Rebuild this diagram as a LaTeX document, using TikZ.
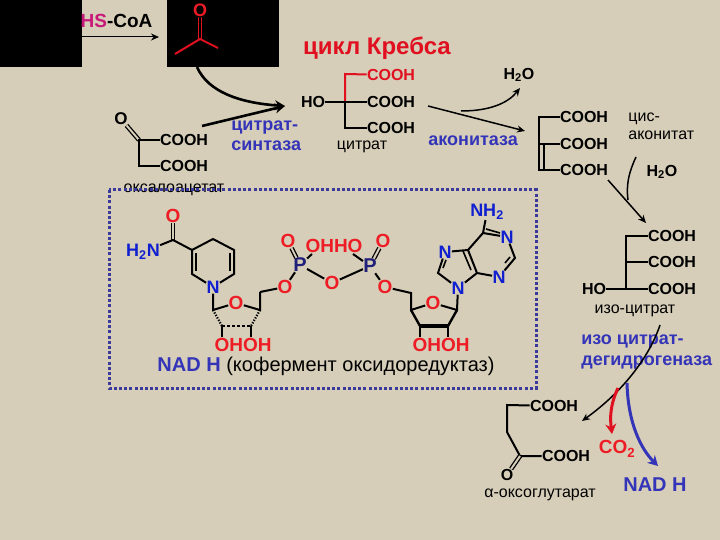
\documentclass[tikz,border=0pt]{standalone}
\usepackage{fontspec}
\setmainfont{Liberation Sans}
\definecolor{bg}{HTML}{D6CEB8}
\definecolor{acr}{HTML}{E01020}
\definecolor{atomr}{HTML}{EE1C25}
\definecolor{atomb}{HTML}{1020D0}
\definecolor{enz}{HTML}{3434B8}
\definecolor{navy}{HTML}{20207A}
\definecolor{mag}{HTML}{C8187A}
\definecolor{dots}{HTML}{3A3A9C}
\usetikzlibrary{arrows.meta}
\tikzset{
 every node/.style={inner sep=0.4pt,outer sep=0pt},
 chem/.style={font=\fontsize{16}{18}\selectfont\bfseries},
 chemO/.style={font=\fontsize{17}{19}\selectfont\bfseries},
 redat/.style={font=\fontsize{19}{21}\selectfont\bfseries,text=atomr},
 bluat/.style={font=\fontsize{18}{20}\selectfont\bfseries,text=atomb},
 pat/.style={font=\fontsize{20}{22}\selectfont\bfseries,text=navy},
 plain/.style={font=\fontsize{16}{18}\selectfont},
 enzy/.style={font=\fontsize{18}{20.5}\selectfont\bfseries,text=enz,align=left},
 bond/.style={line width=2pt,black},
 dbl/.style={line width=1.3pt,black,double=bg,double distance=2pt},
 thin bond/.style={line width=1.6pt,black},
 hash/.style={line width=2.2pt,dash pattern=on 1.3pt off 1.5pt,black},
 rxn/.style={line width=1.5pt,black,-{Stealth[length=8pt,width=7pt]}},
 thickrxn/.style={line width=2.6pt,black,-{Stealth[length=10pt,width=10pt]}},
}
\begin{document}
\begin{tikzpicture}[x=1pt,y=-1pt]
\useasboundingbox (0,0) rectangle (720,540);
\fill[bg] (0,0) rectangle (720,540);
\fill[black] (0,0) rectangle (82,67);
\fill[black] (167,0) rectangle (279,67);
% HS-CoA
\node (hs) at (116.5,21) {\fontsize{19}{21}\selectfont\bfseries\textcolor{mag}{HS}-CoA};
\coordinate (a0) at (82,37); \coordinate (a1) at (159,37);
\draw[rxn,line width=1pt] (a0) -- (a1);
% acetyl
\node[text=atomr,font=\fontsize{18}{20}\selectfont\bfseries] (aO) at (200,10) {O};
\coordinate (aC) at (200,39); \coordinate (aL) at (175,54); \coordinate (aR) at (218,48);
\draw[line width=1.3pt,acr,double=black,double distance=2pt] (aO) -- (aC);
\draw[line width=2pt,acr] (aL) -- (aC) -- (aR);
% title
\node[font=\fontsize{24}{26}\selectfont\bfseries,text=acr] (title) at (377,48) {цикл Кребса};
% incoming arrows
\coordinate (in0) at (197,67); \coordinate (in1) at (285,106); \coordinate (in2) at (202,126);
\draw[thickrxn] (in0) .. controls (208,92) and (240,103) .. (in1);
\draw[thickrxn] (in2) -- (in1);
% oxaloacetate
\node[chemO] (oxO) at (121,119) {O};
\coordinate (ox1) at (139,140); \coordinate (ox2) at (139,166);
\node[chem] (ox3) at (184,140) {COOH};
\node[chem] (ox4) at (184,166) {COOH};
\draw[dbl] (oxO) -- (ox1);
\draw[bond] (ox3) -- (ox1) -- (ox2) -- (ox4);
\node[plain] (oxn) at (174,190) {оксалоацетат};
% citrate synthase
\node[enzy,anchor=west] (cs) at (231,135.5) {цитрат-\\синтаза};
% citrate
\node[chem,text=acr] (c1) at (391,75) {COOH};
\node[chem] (c2) at (391,102) {COOH};
\node[chem] (c3) at (391,128) {COOH};
\node[chem] (cho) at (313,102) {HO};
\coordinate (cc1) at (345,74); \coordinate (cc2) at (345,102); \coordinate (cc3) at (345,128);
\draw[line width=2pt,acr] (c1) -- (cc1) -- (cc2);
\draw[bond] (cho) -- (c2);
\draw[bond] (cc2) -- (cc3) -- (c3);
\node[plain] (cn) at (362,147) {цитрат};
% aconitase
\node[chem] (w1) at (519,75) {H\textsubscript{2}O};
\coordinate (b0) at (428,106); \coordinate (b1) at (525,131); \coordinate (b2) at (461,111); \coordinate (b3) at (520,88);
\draw[rxn] (b0) -- (b1);
\draw[rxn] (b2) .. controls (490,111) and (508,103) .. (b3);
\node[enzy,anchor=west] (ac) at (428,141) {аконитаза};
% cis-aconitate
\node[chem] (d1) at (584,117) {COOH};
\node[chem] (d2) at (584,144) {COOH};
\node[chem] (d3) at (584,170) {COOH};
\coordinate (dc1) at (539,117); \coordinate (dc2) at (539,144); \coordinate (dc3) at (539,170);
\coordinate (dd2) at (544,144); \coordinate (dd3) at (544,170);
\draw[bond] (d1) -- (dc1) -- (dc3) -- (d3);
\draw[bond] (dc2) -- (d2);
\draw[bond] (dd2) -- (dd3);
\node[plain,align=left,anchor=west] (dn) at (628,126) {цис-\\аконитат};
\node[chem] (w2) at (662,172) {H\textsubscript{2}O};
\coordinate (e0) at (636,157); \coordinate (e1) at (628,200); \coordinate (e2) at (608,180); \coordinate (e3) at (646,223);
\draw[line width=1.5pt] (e0) .. controls (629,172) and (626,184) .. (e1);
\draw[rxn] (e2) -- (e3);
% isocitrate
\node[chem] (f1) at (672,236) {COOH};
\node[chem] (f2) at (672,262) {COOH};
\node[chem] (f3) at (672,289) {COOH};
\node[chem] (fho) at (594,289) {HO};
\coordinate (fc1) at (626,236); \coordinate (fc2) at (626,262); \coordinate (fc3) at (626,289);
\draw[bond] (f1) -- (fc1) -- (fc3);
\draw[bond] (fc2) -- (f2);
\draw[bond] (fho) -- (f3);
\node[plain] (fn) at (635,311) {изо-цитрат};
\node[enzy,anchor=west] (idh) at (581,352) {изо цитрат-\\дегидрогеназа};
% decarboxylation
\coordinate (g0) at (660,325); \coordinate (g1) at (582,421); \coordinate (g2) at (618,388); \coordinate (g3) at (612,434); \coordinate (g4) at (627,383); \coordinate (g5) at (658,466);
\draw[rxn] (g0) .. controls (650,355) and (625,390) .. (g1);
\draw[line width=3pt,acr,-{Stealth[length=10pt,width=11pt]}] (g2) .. controls (610,405) and (610,418) .. (g3);
\draw[line width=3pt,enz,-{Stealth[length=10pt,width=11pt]}] (g4) .. controls (628,425) and (642,450) .. (g5);
\node[font=\fontsize{19}{21}\selectfont\bfseries,text=atomr] (co2) at (617,449) {CO\textsubscript{2}};
\node[font=\fontsize{20}{22}\selectfont\bfseries,text=enz] (nadh2) at (655,485) {NAD H};
% ketoglutarate
\node[chem] (k1) at (554,406) {COOH};
\node[chem] (k2) at (566,456) {COOH};
\node[chem] (kO) at (507,475) {O};
\coordinate (kc1) at (507,405); \coordinate (kc2) at (507,432); \coordinate (kc3) at (520,456);
\draw[bond] (k1) -- (kc1) -- (kc2) -- (kc3) -- (k2);
\draw[dbl] (kc3) -- (kO);
\node[plain] (kn) at (540,495) {α-оксоглутарат};
% dotted box
\coordinate (bx1) at (109,190); \coordinate (bx2) at (536,388);
\draw[dots,line width=3pt,dash pattern=on 3pt off 2.2pt] (bx1) rectangle (bx2);
% NAD: nicotinamide
\node[redat] (nO) at (173,216) {O};
\node[bluat] (nH) at (143,252) {H\textsubscript{2}N};
\node[bluat] (nN) at (213,287) {N};
\coordinate (n1) at (173,240); \coordinate (n2) at (192,250); \coordinate (n3) at (213,239); \coordinate (n4) at (234,250); \coordinate (n5) at (234,274); \coordinate (n6) at (192,274);
\draw[dbl] (nO) -- (n1);
\draw[bond] (nH) -- (n1) -- (n2) -- (n3) -- (n4) -- (n5) -- (nN) -- (n6) -- (n2);
\coordinate (n2i) at (196,253); \coordinate (n6i) at (196,271); \coordinate (n4i) at (230,253); \coordinate (n5i) at (230,271);
\draw[thin bond] (n2i) -- (n6i);
\draw[thin bond] (n4i) -- (n5i);
% ribose 1
\node[redat] (r1O) at (236,303) {O};
\coordinate (r1a) at (213,310); \coordinate (r1b) at (222,326); \coordinate (r1c) at (251,326); \coordinate (r1d) at (260,310); \coordinate (r1e) at (260,292);
\draw[bond] (nN) -- (r1a) -- (r1O) -- (r1d) -- (r1e);
\draw[hash] (r1a) -- (r1b);
\draw[hash] (r1d) -- (r1c);
\draw[line width=2pt,dash pattern=on 3pt off 2pt] (r1b) -- (r1c);
\node[redat] (r1h) at (243,345) {OHOH};
\coordinate (r1h1) at (222,337); \coordinate (r1h2) at (251,337);
\draw[bond] (r1b) -- (r1h1);
\draw[bond] (r1c) -- (r1h2);
% phosphates
\node[redat] (p1O5) at (285,287) {O};
\node[pat] (P1) at (300,265) {P};
\node[redat] (p1O) at (288,241) {O};
\node[redat] (oh) at (334,246) {OHHO};
\coordinate (ohL) at (312,254); \coordinate (ohR) at (353,254);
\node[redat] (pbr) at (332,283) {O};
\node[pat] (P2) at (370,266) {P};
\node[redat] (p2O) at (383,241) {O};
\node[redat] (p2O5) at (385,287) {O};
\draw[bond] (r1e) -- (p1O5) -- (P1) -- (pbr) -- (P2) -- (p2O5);
\draw[dbl] (P1) -- (p1O);
\draw[dbl] (P2) -- (p2O);
\draw[bond] (P1) -- (ohL);
\draw[bond] (P2) -- (ohR);
% ribose 2
\coordinate (r2e) at (411,293); \coordinate (r2d) at (411,310); \coordinate (r2c) at (420,326); \coordinate (r2b) at (448,326); \coordinate (r2a) at (457,310);
\node[redat] (r2O) at (433,303) {O};
\node[bluat] (aN9) at (458,288) {N};
\draw[bond] (p2O5) -- (r2e) -- (r2d) -- (r2O) -- (r2a) -- (aN9);
\draw[bond,line width=2.4pt] (r2d) -- (r2c);
\draw[bond,line width=2.4pt] (r2a) -- (r2b);
\draw[line width=3.6pt] (r2c) -- (r2b);
\node[redat] (r2h) at (441,345) {OHOH};
\coordinate (r2h1) at (420,337); \coordinate (r2h2) at (448,337);
\draw[bond] (r2c) -- (r2h1);
\draw[bond] (r2b) -- (r2h2);
% adenine
\node[bluat] (aN7) at (445,252) {N};
\node[bluat] (aN1) at (507,237) {N};
\node[bluat] (aN3) at (499,277) {N};
\node[bluat] (aNH) at (487,212) {NH\textsubscript{2}};
\coordinate (a4) at (477,273); \coordinate (a5) at (468,250); \coordinate (a6) at (483,233); \coordinate (a8) at (438,273); \coordinate (a2) at (515,258);
\draw[bond] (aN9) -- (a4) -- (a5) -- (a6) -- (aN1) -- (a2) -- (aN3) -- (a4);
\draw[bond] (a5) -- (aN7) -- (a8) -- (aN9);
\draw[bond] (a6) -- (aNH);
\coordinate (a6i) at (486,229); \coordinate (aN1i) at (500,233);
\draw[thin bond] (a6i) -- (aN1i);
\coordinate (a8i) at (443,268); \coordinate (aN7i) at (446,260);
\draw[thin bond] (a8i) -- (aN7i);
\coordinate (a4j) at (471,270); \coordinate (a5j) at (463,251);
\draw[thin bond] (a4j) -- (a5j);
\coordinate (a2i) at (510,257); \coordinate (aN3i) at (505,263);
\draw[thin bond] (a2i) -- (aN3i);
% caption
\node[anchor=west,font=\fontsize{20}{22}\selectfont] (cap) at (157,366) {\textcolor{enz}{\bfseries NAD H} (кофермент оксидоредуктаз)};
\end{tikzpicture}
\end{document}
